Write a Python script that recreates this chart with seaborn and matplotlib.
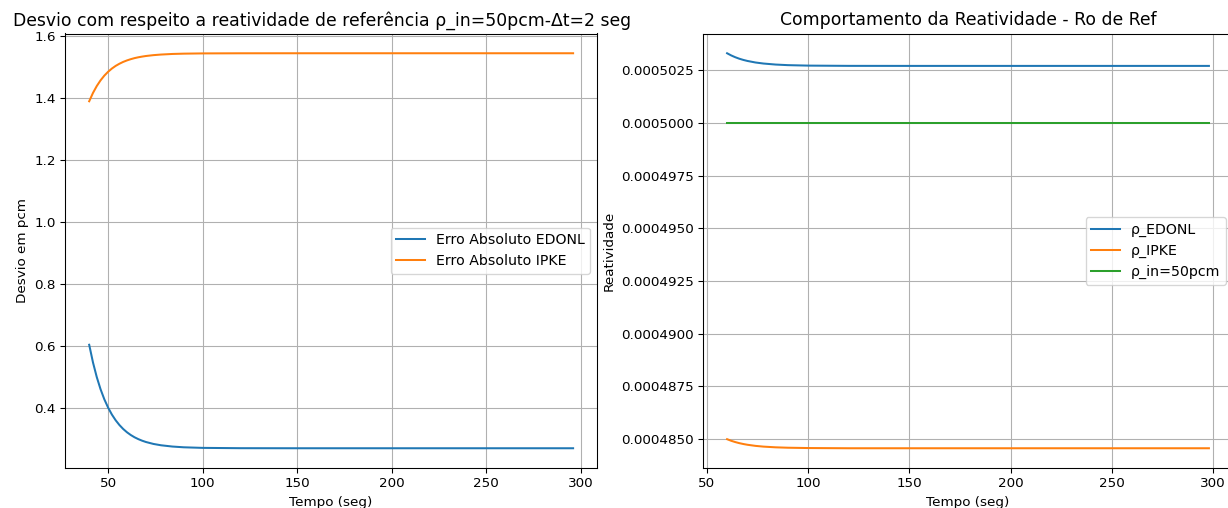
import matplotlib
matplotlib.use("Agg")
import matplotlib.pyplot as plt
import seaborn as sns
import pandas as pd

# ---- data ----
t_left = [40, 42, 44, 46, 48, 50, 52, 54, 56, 58, 60, 62, 64, 66, 68, 70,
          74, 78, 84, 90, 100, 120, 150, 200, 250, 296]
err_edonl = [0.604, 0.547, 0.4998, 0.4606, 0.4281, 0.4012, 0.3788, 0.3603, 0.3449,
             0.3321, 0.3215, 0.3127, 0.3054, 0.2994, 0.2944, 0.2902, 0.2839, 0.2796,
             0.2755, 0.2731, 0.2712, 0.2702, 0.2700, 0.2700, 0.2700, 0.2700]
err_ipke = [1.390, 1.4169, 1.4391, 1.4575, 1.4727, 1.4852, 1.4956, 1.5042, 1.5112,
            1.5171, 1.5219, 1.5259, 1.5293, 1.5320, 1.5342, 1.5361, 1.5389, 1.5408,
            1.5427, 1.5437, 1.5445, 1.5449, 1.5450, 1.5450, 1.5450, 1.5450]

t_right = [60, 62, 64, 66, 68, 70, 74, 78, 84, 90, 100, 120, 150, 200, 250, 298]
rho_edonl = [0.00050330, 0.000503198, 0.000503113, 0.000503042, 0.000502984,
             0.000502936, 0.000502862, 0.000502812, 0.000502764, 0.000502736,
             0.000502714, 0.000502702, 0.0005027, 0.0005027, 0.0005027, 0.0005027]
rho_ipke = [0.00048500, 0.000484925, 0.000484864, 0.000484813, 0.000484771,
            0.000484736, 0.000484683, 0.000484647, 0.000484614, 0.000484595,
            0.00048458, 0.00048457, 0.00048457, 0.00048457, 0.00048457, 0.00048457]
rho_in = [0.0005] * len(t_right)

left_title = "Desvio com respeito a reatividade de referência ρ_in=50pcm-Δt=2 seg"
right_title = "Comportamento da Reatividade - Ro de Ref"

plt.rcParams["font.size"] = 10

DPI = 97
W, H = 1228, 508
fig = plt.figure(figsize=(W / DPI, H / DPI), dpi=DPI)
ax1 = fig.add_axes([65 / W, (H - 468) / H, (597.3 - 65) / W, (468 - 33.5) / H])
ax2 = fig.add_axes([703 / W, (H - 468) / H, (1233 - 703) / W, (468 - 33.5) / H])

c = plt.rcParams["axes.prop_cycle"].by_key()["color"]

df_l = pd.DataFrame({"t": t_left, "edonl": err_edonl, "ipke": err_ipke})
sns.lineplot(data=df_l, x="t", y="edonl", ax=ax1, color=c[0], label="Erro Absoluto EDONL")
sns.lineplot(data=df_l, x="t", y="ipke", ax=ax1, color=c[1], label="Erro Absoluto IPKE")
ax1.set_title(left_title, fontsize=12.8, x=0.483)
ax1.set_xlabel("Tempo (seg)")
ax1.set_ylabel("Desvio em pcm")
ax1.grid(True)
ax1.legend(loc="center right", fontsize=10.5)

df_r = pd.DataFrame({"t": t_right, "e": rho_edonl, "i": rho_ipke, "r": rho_in})
sns.lineplot(data=df_r, x="t", y="e", ax=ax2, color=c[0], label="ρ_EDONL")
sns.lineplot(data=df_r, x="t", y="i", ax=ax2, color=c[1], label="ρ_IPKE")
sns.lineplot(data=df_r, x="t", y="r", ax=ax2, color=c[2], label="ρ_in=50pcm")
ax2.set_title(right_title, fontsize=12.8)
ax2.set_xlabel("Tempo (seg)")
ax2.set_ylabel("Reatividade")
ax2.grid(True)
ax2.legend(loc="center right", fontsize=10.5)

fig.savefig("out.png", dpi=DPI)
